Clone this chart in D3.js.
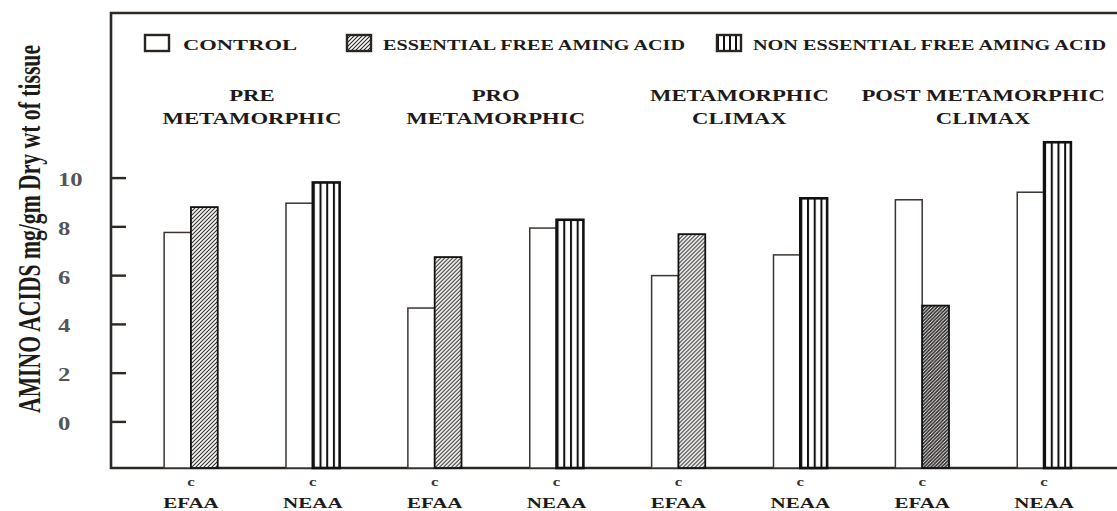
<!DOCTYPE html>
<html>
<head>
<meta charset="utf-8">
<script src="https://cdn.jsdelivr.net/npm/d3@7"></script>
<style>
body { margin: 0; background: #fff; }
text { font-family: "Liberation Serif", "DejaVu Serif", serif; font-weight: bold; fill: #1e1a18; }
</style>
</head>
<body>
<script>
// stages of metamorphosis, two kinds of amino acid in each
var stages = ["PRE METAMORPHIC", "PRO METAMORPHIC", "METAMORPHIC CLIMAX", "POST METAMORPHIC CLIMAX"];
var stageLines = [["PRE", "METAMORPHIC"], ["PRO", "METAMORPHIC"], ["METAMORPHIC", "CLIMAX"], ["POST METAMORPHIC", "CLIMAX"]];
var kinds = ["EFAA", "NEAA"];
var seriesNames = ["CONTROL", "ESSENTIAL FREE AMING ACID", "NON ESSENTIAL FREE AMING ACID"];

// values, stage by stage: EFAA then NEAA
var control = [7.75, 8.95, 4.65, 7.93, 5.98, 6.83, 9.09, 9.40];
var treated = [8.79, 9.80, 6.74, 8.27, 7.68, 9.15, 4.75, 11.45];
var letters = ["c", "c", "c", "c", "c", "c", "c", "c"];
var yTicks = [0, 2, 4, 6, 8, 10];

var W = 1117, H = 511;
var svg = d3.select("body").append("svg").attr("width", W).attr("height", H);

var mLeft = 111, mTop = 13, base = 468;

var y = d3.scaleLinear().domain([-1.91, 16.75]).range([base, mTop]);
var x0 = d3.scaleBand().domain(stages).range([130, 1105]);
var x1 = d3.scalePoint().domain(kinds).range([0, x0.bandwidth()]).padding(0.5);
var barW = x1.step() * 0.22;

// squeeze/stretch text horizontally like the scanned figure
function stretch(sel, k) {
  sel.each(function() {
    var w = this.getComputedTextLength();
    d3.select(this).attr("textLength", w * k).attr("lengthAdjust", "spacingAndGlyphs");
  });
}

var defs = svg.append("defs");
function hatch(id, step, sw) {
  var p = defs.append("pattern").attr("id", id).attr("patternUnits", "userSpaceOnUse")
    .attr("width", step).attr("height", step);
  p.append("rect").attr("width", step).attr("height", step).attr("fill", "#fff");
  p.append("path")
    .attr("d", "M-1,1l2,-2M0," + step + "l" + step + "," + (-step) + "M" + (step - 1) + "," + (step + 1) + "l2,-2")
    .attr("stroke", "#2a2624").attr("stroke-width", sw);
}
hatch("hatch", 4, 1.1);
hatch("hatchDark", 3.5, 1.7);

var stripes = defs.append("pattern").attr("id", "stripes").attr("patternUnits", "objectBoundingBox")
  .attr("x", 0).attr("y", 0).attr("width", 0.25).attr("height", 1);
stripes.append("rect").attr("width", 40).attr("height", 1000).attr("fill", "#fff");
stripes.append("rect").attr("width", 2).attr("height", 1000).attr("fill", "#111");

// frame
svg.append("path")
  .attr("d", "M" + (W + 5) + "," + mTop + "H" + mLeft + "V" + base + "H" + (W + 5))
  .attr("fill", "none").attr("stroke", "#2e2825").attr("stroke-width", 2.6);

// y axis, ticks inside
var yAxis = svg.append("g").attr("transform", "translate(" + mLeft + ",0)")
  .call(d3.axisLeft(y).tickValues(yTicks).tickSize(-15).tickPadding(0));
yAxis.select(".domain").remove();
yAxis.selectAll(".tick line").attr("stroke", "#2e2825").attr("stroke-width", 2.4);
yAxis.selectAll(".tick text")
  .attr("x", -53).attr("dy", "0.42em").attr("text-anchor", "start")
  .style("font-family", "'Liberation Serif', serif").style("font-weight", "bold")
  .style("font-size", "19px").style("fill", "#555");
stretch(yAxis.selectAll(".tick text"), 1.3);

svg.append("text")
  .attr("transform", "translate(40,229) scale(1.45,1) rotate(-90)")
  .attr("text-anchor", "middle")
  .style("font-size", "22px")
  .attr("textLength", 368).attr("lengthAdjust", "spacingAndGlyphs")
  .text("AMINO ACIDS mg/gm Dry wt of tissue");

// bars
var cells = [];
stages.forEach(function(s, i) {
  kinds.forEach(function(k, j) {
    var n = i * kinds.length + j;
    cells.push({stage: s, si: i, kind: k, c: control[n], t: treated[n], letter: letters[n]});
  });
});

var cell = svg.selectAll(".cell").data(cells).enter().append("g")
  .attr("class", "cell")
  .attr("transform", function(d) { return "translate(" + (x0(d.stage) + x1(d.kind)) + ",0)"; });

cell.append("rect")
  .attr("x", -barW).attr("width", barW)
  .attr("y", function(d) { return y(d.c); })
  .attr("height", function(d) { return base - y(d.c); })
  .attr("fill", "#fff").attr("stroke", "#3d3430").attr("stroke-width", 1.5);

cell.append("rect")
  .attr("x", 0).attr("width", barW)
  .attr("y", function(d) { return y(d.t); })
  .attr("height", function(d) { return base - y(d.t); })
  .attr("fill", function(d) {
    if (d.kind === "NEAA") return "url(#stripes)";
    return d.si === 3 ? "url(#hatchDark)" : "url(#hatch)";
  })
  .attr("stroke", "#111")
  .attr("stroke-width", function(d) { return d.kind === "NEAA" ? 2.6 : 1.8; });

var lt = cell.append("text").attr("y", 486).attr("text-anchor", "middle")
  .style("font-size", "12px").style("fill", "#333")
  .text(function(d) { return d.letter; });
stretch(lt, 1.4);

var kt = cell.append("text").attr("y", 508).attr("text-anchor", "middle")
  .style("font-size", "15px")
  .text(function(d) { return d.kind; });
stretch(kt, 1.4);

// stage titles
var st = svg.selectAll(".stage").data(stages).enter().append("g")
  .attr("class", "stage")
  .attr("transform", function(d) { return "translate(" + (x0(d) + x0.bandwidth() / 2) + ",0)"; });
st.each(function(d, i) {
  var g = d3.select(this);
  stageLines[i].forEach(function(line, k) {
    var t = g.append("text").attr("y", 101 + k * 23).attr("text-anchor", "middle")
      .style("font-size", "16px").text(line);
    stretch(t, 1.42);
  });
});

// legend
var legX = [145, 347, 717];
var legLen = [114, 302, 353];
var leg = svg.selectAll(".leg").data(seriesNames).enter().append("g")
  .attr("class", "leg")
  .attr("transform", function(d, i) { return "translate(" + legX[i] + ",35)"; });
leg.append("rect")
  .attr("width", 24).attr("height", 16)
  .attr("fill", function(d, i) { return i === 0 ? "#fff" : i === 1 ? "url(#hatch)" : "url(#stripes)"; })
  .attr("stroke", "#2a2420").attr("stroke-width", 2.4);
leg.append("text")
  .attr("x", function(d, i) { return i === 0 ? 38 : 36; })
  .attr("y", 15)
  .style("font-size", "15px")
  .attr("textLength", function(d, i) { return legLen[i]; })
  .attr("lengthAdjust", "spacingAndGlyphs")
  .text(function(d) { return d; });
</script>
</body>
</html>
